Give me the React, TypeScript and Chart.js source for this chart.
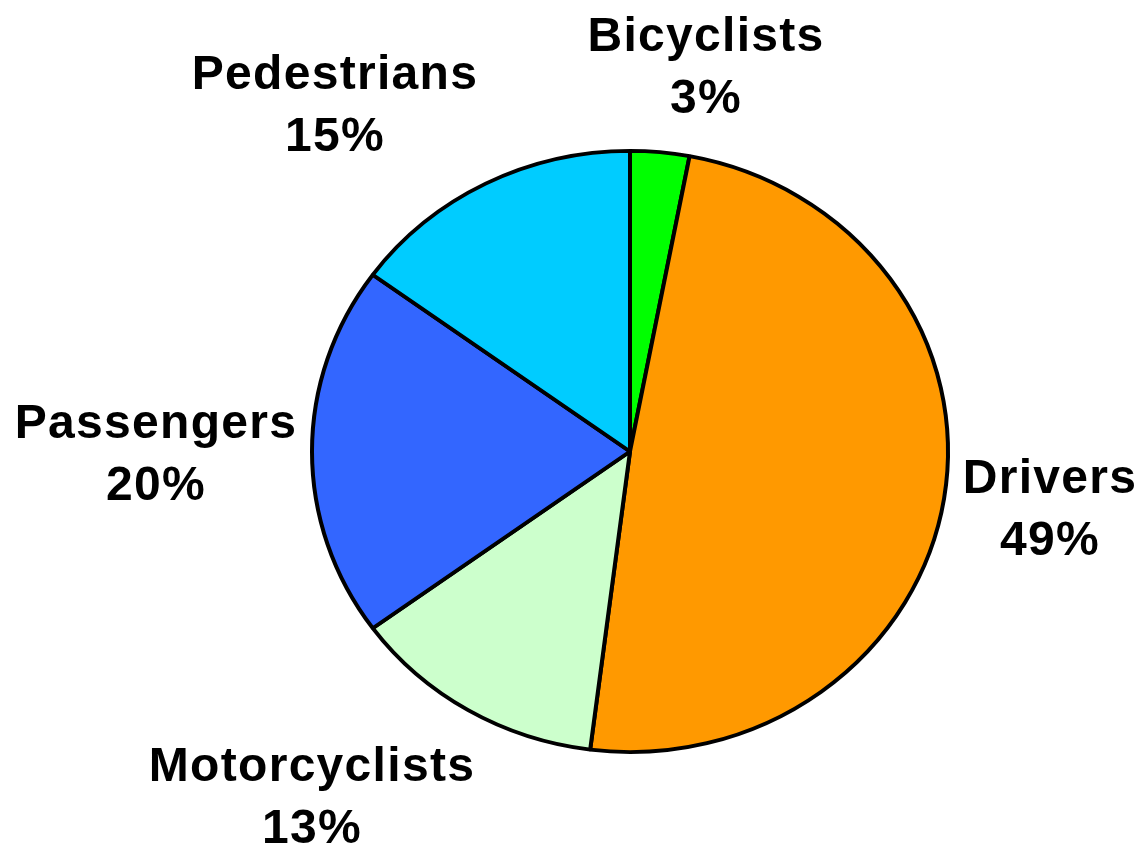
import React, { useEffect, useRef } from "react";
import { Chart, registerables } from "chart.js";

Chart.register(...registerables);

const categories = ["Bicyclists", "Drivers", "Motorcyclists", "Passengers", "Pedestrians"];
const shares = [3, 49, 13, 20, 15];
const shareLabels = ["3%", "49%", "13%", "20%", "15%"];
const sliceColors = ["#00FF00", "#FF9900", "#CCFFCC", "#3366FF", "#00CCFF"];

// label text anchors relative to the pie centre: [centre x offset, first baseline offset]
const labelOffsets: [number, number][] = [
  [76, -401],
  [420, 41],
  [-318, 329],
  [-474, -14],
  [-295, -363],
];

const Y_SQUASH = 302.5 / 320;
const FONT = "bold 48px 'Liberation Sans', Arial, sans-serif";
const LINE_GAP = 62;

const ellipsePlugin = {
  id: "ellipse",
  beforeDatasetsDraw(chart: any) {
    const meta = chart.getDatasetMeta(0);
    const arc = meta.data[0];
    const ctx = chart.ctx;
    ctx.save();
    ctx.translate(arc.x, arc.y);
    ctx.scale(1, Y_SQUASH);
    ctx.translate(-arc.x, -arc.y);
  },
  afterDatasetsDraw(chart: any) {
    chart.ctx.restore();
  },
};

const labelPlugin = {
  id: "sliceLabels",
  afterDraw(chart: any) {
    const meta = chart.getDatasetMeta(0);
    const ctx = chart.ctx;
    ctx.save();
    ctx.font = FONT;
    (ctx as any).letterSpacing = "1.3px";
    ctx.fillStyle = "#000000";
    ctx.textAlign = "center";
    ctx.textBaseline = "alphabetic";
    meta.data.forEach((arc: any, i: number) => {
      const [dx, dy] = labelOffsets[i];
      const x = arc.x + dx;
      const y = arc.y + dy;
      ctx.fillText(categories[i], x, y);
      ctx.fillText(shareLabels[i], x, y + LINE_GAP);
    });
    ctx.restore();
  },
};

export default function App() {
  const canvasRef = useRef<HTMLCanvasElement | null>(null);

  useEffect(() => {
    if (!canvasRef.current) return;
    const chart = new Chart(canvasRef.current, {
      type: "pie",
      data: {
        labels: categories,
        datasets: [
          {
            data: shares,
            backgroundColor: sliceColors,
            borderColor: "#000000",
            borderWidth: 4,
          },
        ],
      },
      options: {
        responsive: false,
        animation: false,
        devicePixelRatio: 1,
        layout: {
          padding: { left: 310, right: 194, top: 131, bottom: 78 },
        },
        plugins: {
          legend: { display: false },
          tooltip: { enabled: false },
        },
      },
      plugins: [ellipsePlugin, labelPlugin],
    });
    return () => chart.destroy();
  }, []);

  return (
    <div style={{ position: "absolute", left: 0, top: 0, width: 1144, height: 850, background: "#ffffff" }}>
      <canvas ref={canvasRef} width={1144} height={850} />
    </div>
  );
}
